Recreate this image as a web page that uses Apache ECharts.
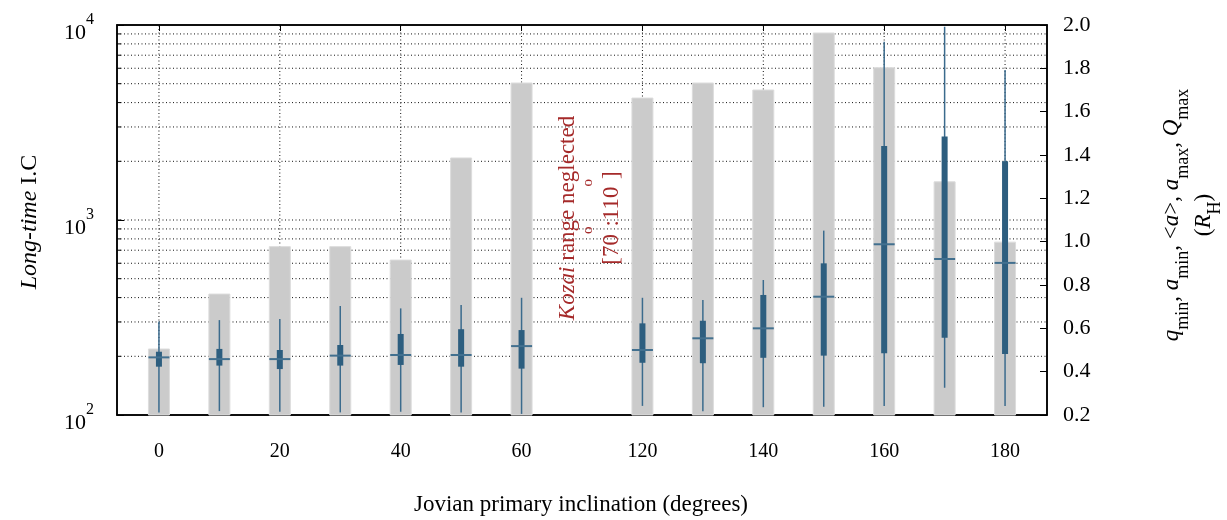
<!DOCTYPE html>
<html><head><meta charset="utf-8">
<script src="https://cdn.jsdelivr.net/npm/echarts@6/dist/echarts.min.js"></script>
<style>html,body{margin:0;padding:0;background:#fff}#c{width:1227px;height:520px}</style>
</head><body><div id="c"></div>
<script>
// ---- data ----
const inclinations = [0, 10, 20, 30, 40, 50, 60, 120, 130, 140, 150, 160, 170, 180];
const longTimeIC   = [218, 417, 730, 730, 623, 2080, 5040, 4220, 5040, 4640, 9100, 6040, 1570, 770];
const qMin  = [0.212, 0.218, 0.215, 0.212, 0.215, 0.211, 0.205, 0.242, 0.217, 0.236, 0.238, 0.242, 0.326, 0.242];
const aMin  = [0.423, 0.428, 0.412, 0.428, 0.431, 0.423, 0.414, 0.441, 0.439, 0.464, 0.474, 0.485, 0.557, 0.482];
const aMean = [0.466, 0.458, 0.458, 0.474, 0.477, 0.477, 0.518, 0.500, 0.554, 0.600, 0.746, 0.988, 0.920, 0.902];
const aMax  = [0.492, 0.505, 0.500, 0.523, 0.574, 0.596, 0.592, 0.623, 0.635, 0.754, 0.900, 1.441, 1.485, 1.371];
const QMax  = [0.631, 0.638, 0.643, 0.703, 0.692, 0.708, 0.741, 0.741, 0.731, 0.823, 1.051, 1.923, 1.992, 1.792];
const xTickLabels = ['0', '20', '40', '60', '120', '140', '160', '180'];
const xTickSlots  = [0, 2, 4, 6, 8, 10, 12, 14];
const logGridValues = [200, 300, 400, 500, 600, 700, 800, 900, 1000, 2000, 3000, 4000, 5000, 6000, 7000, 8000, 9000];

// slot index on the x axis: one empty slot for the neglected Kozai range (70-110)
function slotOf(i) { return i < 7 ? i : i + 1; }
const X_MIN = -0.694, X_MAX = 14.694;
const FONT = 'Liberation Serif';
const BLUE = '#2d5e7f';
const RED = '#a52a2a';

const barData = inclinations.map((d, i) => [slotOf(i), longTimeIC[i]]);
const boxData = inclinations.map((d, i) => [slotOf(i), qMin[i], aMin[i], aMean[i], aMax[i], QMax[i]]);

const chart = echarts.init(document.getElementById('c'), null, {renderer: 'canvas'});
const option = {
  animation: false,
  backgroundColor: '#fff',
  textStyle: {fontFamily: FONT},
  grid: {left: 117, top: 25, width: 930, height: 390, show: true, borderColor: '#000', borderWidth: 1.5, backgroundColor: 'transparent', outerBoundsMode: 'none'},
  xAxis: [{
    type: 'value', min: X_MIN, max: X_MAX, position: 'bottom',
    axisLine: {show: true, onZero: false, lineStyle: {color: '#000', width: 1.5}},
    axisTick: {show: true, inside: true, length: 6, customValues: xTickSlots, lineStyle: {color: '#000'}},
    axisLabel: {customValues: xTickSlots, margin: 27, fontSize: 20, fontFamily: FONT, color: '#000',
      formatter: v => { const k = xTickSlots.indexOf(Math.round(v)); return k >= 0 ? xTickLabels[k] : ''; }},
    splitLine: {show: false}
  }, {
    type: 'value', min: X_MIN, max: X_MAX, position: 'top',
    axisLine: {show: true, onZero: false, lineStyle: {color: '#000', width: 1.5}},
    axisTick: {show: true, inside: true, length: 6, customValues: xTickSlots, lineStyle: {color: '#000'}},
    axisLabel: {show: false}, splitLine: {show: false}
  }],
  yAxis: [{
    type: 'log', logBase: 10, min: 100, max: 10000, position: 'left',
    axisLine: {show: true, onZero: false, lineStyle: {color: '#000', width: 1.5}},
    axisTick: {show: true, inside: true, length: 7, lineStyle: {color: '#000'}},
    axisLabel: {margin: 23, color: '#000', padding: [6, 0, 0, 0],
      formatter: v => '{n|10}{s|' + Math.round(Math.log10(v)) + '}',
      rich: {
        n: {fontSize: 22, fontFamily: FONT, color: '#000', lineHeight: 33, verticalAlign: 'bottom'},
        s: {fontSize: 16, fontFamily: FONT, color: '#000', lineHeight: 16, verticalAlign: 'top'}
      }},
    splitLine: {show: false}
  }, {
    type: 'value', min: 0.2, max: 2.0, interval: 0.2, position: 'right',
    axisLine: {show: true, onZero: false, lineStyle: {color: '#000', width: 1.5}},
    axisTick: {show: true, inside: true, length: 7, lineStyle: {color: '#000'}},
    axisLabel: {margin: 16, fontSize: 22, fontFamily: FONT, color: '#000', formatter: v => v.toFixed(1)},
    splitLine: {show: false}
  }],
  series: [
    { // horizontal dotted grid (log minor positions)
      type: 'custom', name: 'hgrid', xAxisIndex: 0, yAxisIndex: 0, z: 1, silent: true,
      data: logGridValues.map(v => [X_MIN, v]), encode: {x: 0, y: 1},
      renderItem: (params, api) => {
        const v = api.value(1);
        const a = api.coord([X_MIN, v]), b = api.coord([X_MAX, v]);
        return {type: 'group', children: [
          {type: 'line', shape: {x1: a[0], y1: a[1], x2: b[0], y2: b[1]}, style: {stroke: '#111', lineWidth: 1, lineDash: [1, 2.5]}},
          {type: 'line', shape: {x1: a[0], y1: a[1], x2: a[0] + 4, y2: a[1]}, style: {stroke: '#000', lineWidth: 1}}
        ]};
      }
    },
    { // vertical dotted grid at labelled ticks
      type: 'custom', name: 'vgrid', xAxisIndex: 0, yAxisIndex: 0, z: 1, silent: true,
      data: xTickSlots.map(s => [s, 100]), encode: {x: 0, y: 1},
      renderItem: (params, api) => {
        const x = api.value(0);
        const a = api.coord([x, 100]), b = api.coord([x, 10000]);
        return {type: 'line', shape: {x1: a[0], y1: a[1], x2: b[0], y2: b[1]}, style: {stroke: '#111', lineWidth: 1, lineDash: [1, 2.5]}};
      }
    },
    { // gray bars: Long-time I.C (log axis)
      type: 'custom', name: 'Long-time I.C', xAxisIndex: 0, yAxisIndex: 0, z: 2,
      data: barData, encode: {x: 0, y: 1},
      renderItem: (params, api) => {
        const x = api.value(0), v = api.value(1);
        const t = api.coord([x, v]), b = api.coord([x, 100]);
        const w = 21;
        return {type: 'rect', shape: {x: t[0] - w / 2, y: t[1], width: w, height: b[1] - t[1]},
          style: {fill: '#cbcbcb', stroke: '#dcdcdc', lineWidth: 1}};
      }
    },
    { // q_min, a_min, <a>, a_max, Q_max glyphs (right axis)
      type: 'custom', name: 'distances', xAxisIndex: 0, yAxisIndex: 1, z: 3,
      data: boxData, encode: {x: 0, y: [1, 2, 3, 4, 5]},
      renderItem: (params, api) => {
        const x = api.value(0);
        const pq = api.coord([x, api.value(1)]);
        const pa = api.coord([x, api.value(2)]);
        const pm = api.coord([x, api.value(3)]);
        const pA = api.coord([x, api.value(4)]);
        const pQ = api.coord([x, api.value(5)]);
        return {type: 'group', children: [
          {type: 'line', shape: {x1: pq[0], y1: pq[1], x2: pQ[0], y2: pQ[1]}, style: {stroke: '#3b6b8d', lineWidth: 1.5}},
          {type: 'rect', shape: {x: pa[0] - 3, y: pA[1], width: 6, height: pa[1] - pA[1]}, style: {fill: BLUE}},
          {type: 'line', shape: {x1: pm[0] - 10.5, y1: pm[1], x2: pm[0] + 10.5, y2: pm[1]}, style: {stroke: '#42708f', lineWidth: 2}}
        ]};
      }
    }
  ],
  graphic: [
    { // left axis name
      type: 'text', x: 30, y: 222, rotation: Math.PI / 2, z: 10,
      style: {text: '{i|Long-time}{n| I.C}', align: 'center', verticalAlign: 'middle', fill: '#000',
        rich: {i: {fontSize: 24, fontFamily: FONT, fontStyle: 'italic', fill: '#000'},
               n: {fontSize: 24, fontFamily: FONT, fill: '#000'}}}
    },
    { // right axis name
      type: 'text', x: 1192, y: 215, rotation: Math.PI / 2, z: 10,
      style: {
        text: '{i|q}{b|min}{n|, }{i|a}{b|min}{n|, <}{i|a}{n|>, }{i|a}{b|max}{n|, }{i|Q}{b|max}\n{n|(}{i|R}{b|H}{n|)}',
        align: 'center', verticalAlign: 'middle', fill: '#000',
        rich: {
          i: {fontSize: 23, fontFamily: FONT, fontStyle: 'italic', fill: '#000', lineHeight: 32, verticalAlign: 'top'},
          n: {fontSize: 23, fontFamily: FONT, fill: '#000', lineHeight: 32, verticalAlign: 'top'},
          b: {fontSize: 18, fontFamily: FONT, fill: '#000', lineHeight: 18, verticalAlign: 'bottom'}
        }}
    },
    { // x axis name
      type: 'text', x: 581, y: 505, z: 10,
      style: {text: 'Jovian primary inclination (degrees)', align: 'center', verticalAlign: 'middle',
        fontSize: 23, fontFamily: FONT, fill: '#000'}
    },
    { // Kozai annotation
      type: 'text', x: 589, y: 218, rotation: Math.PI / 2, z: 10,
      style: {
        text: '{i|Kozai}{n| range neglected}\n{m|[70}{s|o}{m|:110}{s|o}{m|]}',
        align: 'center', verticalAlign: 'middle', fill: RED,
        rich: {
          i: {fontSize: 23, fontFamily: FONT, fontStyle: 'italic', fill: RED, lineHeight: 26},
          n: {fontSize: 23, fontFamily: FONT, fill: RED, lineHeight: 26},
          m: {fontSize: 23, fontFamily: FONT, fill: RED, lineHeight: 42, verticalAlign: 'bottom'},
          s: {fontSize: 15, fontFamily: FONT, fill: RED, lineHeight: 15, verticalAlign: 'top'}
        }}
    }
  ]
};
chart.setOption(option);
</script>
</body></html>
